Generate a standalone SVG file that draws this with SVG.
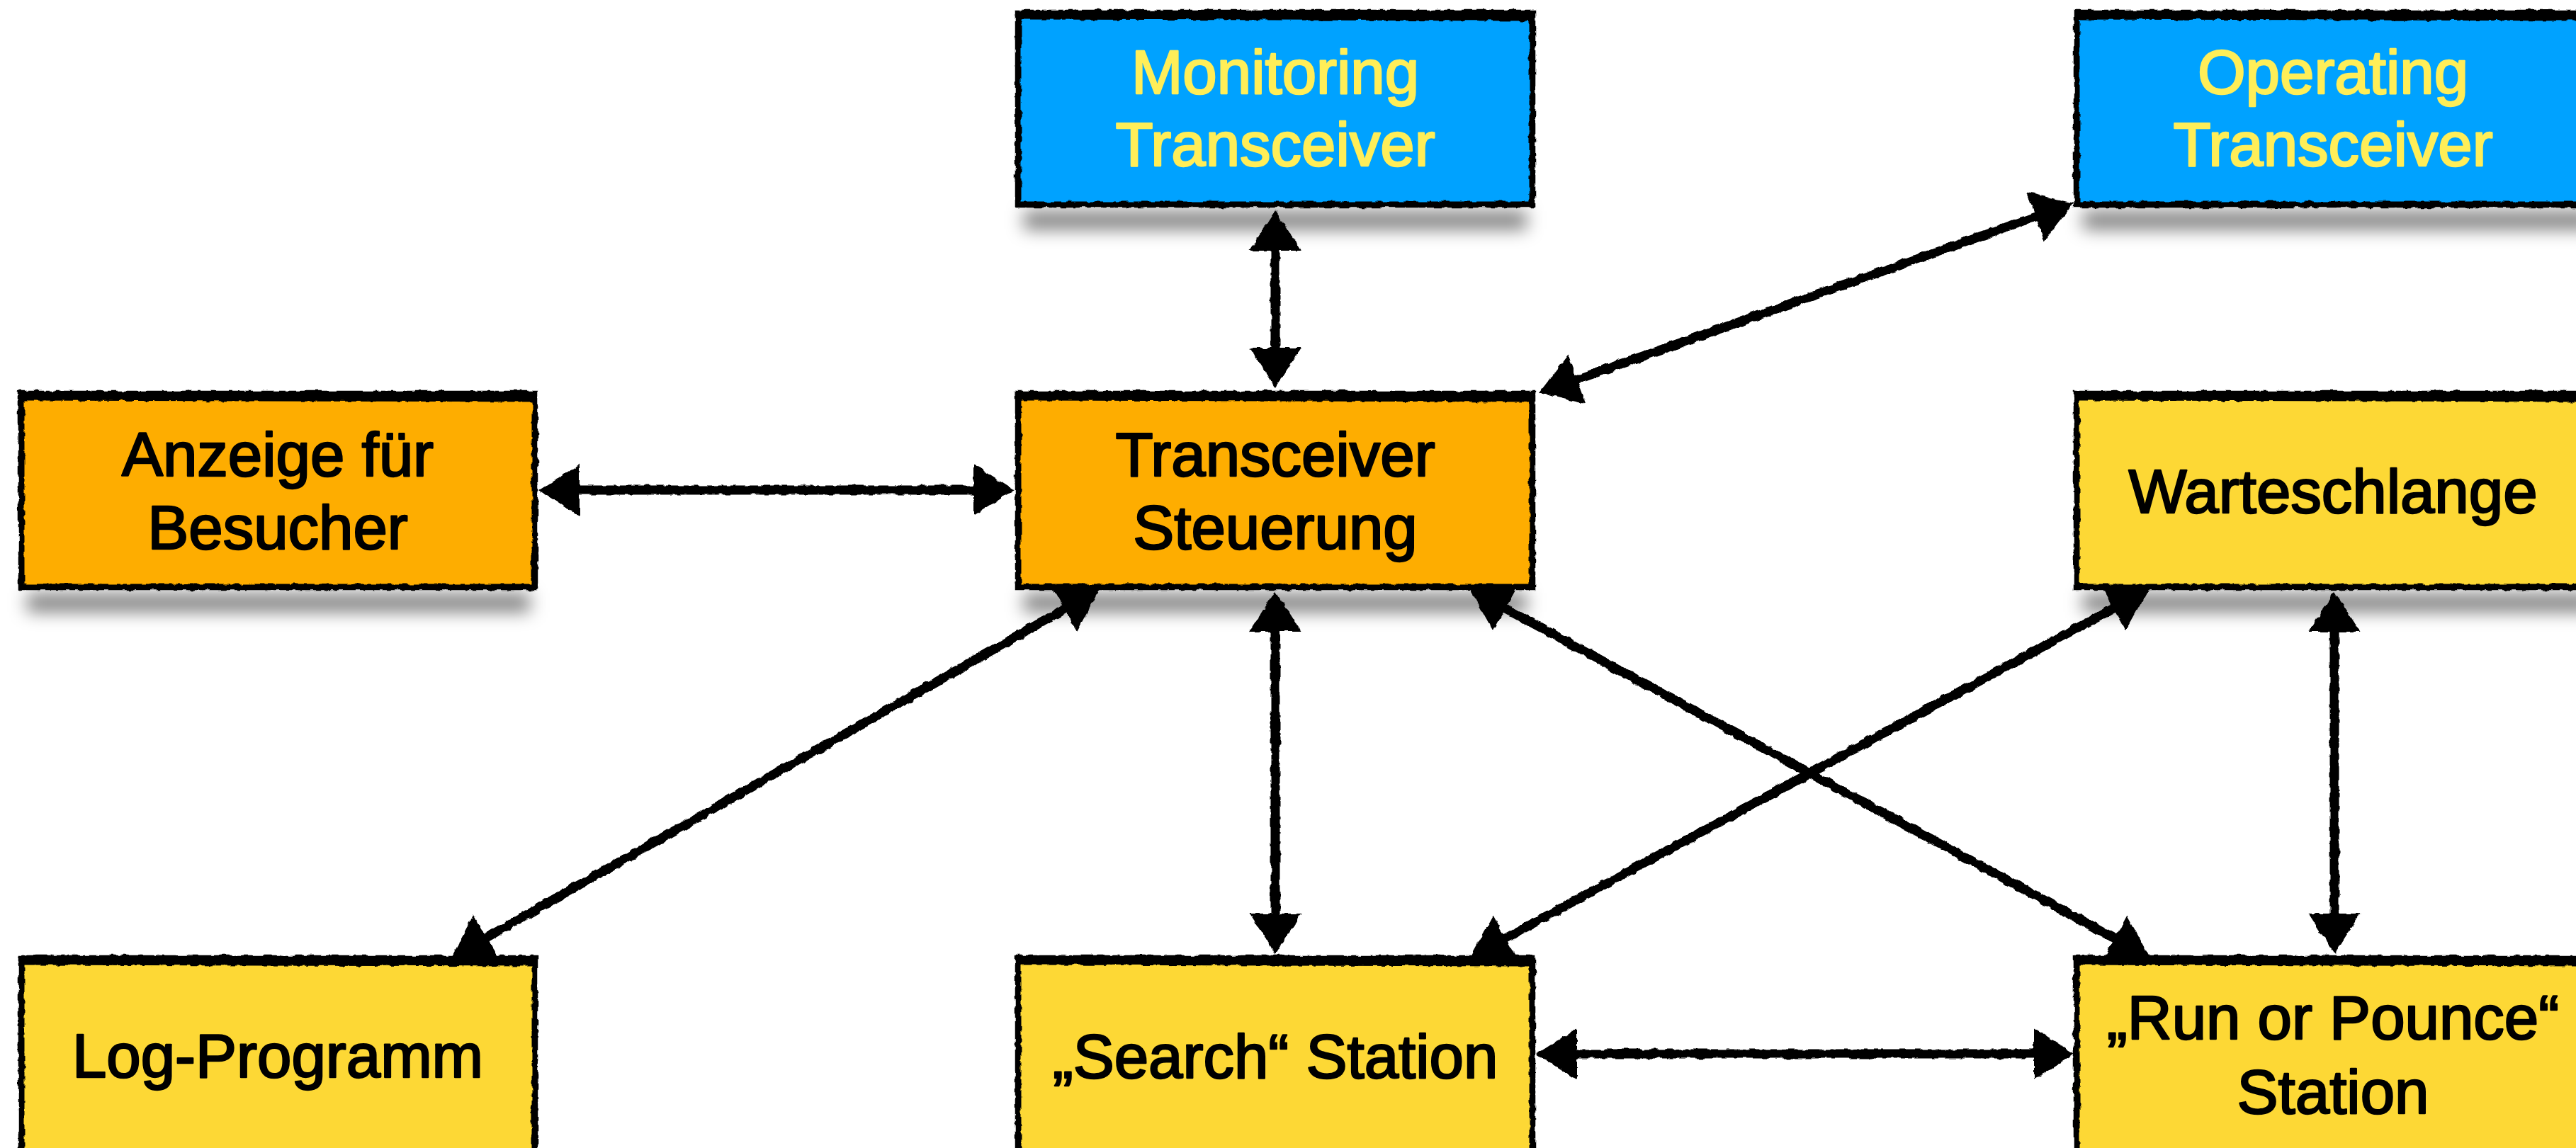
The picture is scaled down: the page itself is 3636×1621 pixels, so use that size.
<svg xmlns="http://www.w3.org/2000/svg" width="3636" height="1621" viewBox="0 0 3636 1621">
<defs>
<style>
.bg{fill:#ffffff}
.blue{fill:#00A2FF}
.orange{fill:#FEAD00}
.yellow{fill:#FDD835}
.frame{fill:none;stroke:#000;stroke-width:7}
.frame2{fill:none;stroke:#000;stroke-width:2.5}
.thick{stroke:#000;stroke-width:9;fill:none}
.lbl{font-family:"Liberation Sans",Arial,Helvetica,sans-serif;font-size:87px;text-anchor:middle;stroke-width:2.5;stroke-linejoin:round}
.dark{fill:#000;stroke:#000}
.light{fill:#FFEE58;stroke:#FFEE58}
.conn{stroke:#000;stroke-width:13;fill:none;stroke-linecap:butt;marker-start:url(#ah);marker-end:url(#ah)}
.shadow{fill:#000;opacity:0.5}
</style>
<filter id="rough" filterUnits="userSpaceOnUse" x="0" y="0" width="3636" height="1621">
<feTurbulence type="fractalNoise" baseFrequency="0.09" numOctaves="2" seed="3" result="n"/>
<feDisplacementMap in="SourceGraphic" in2="n" scale="6" xChannelSelector="R" yChannelSelector="G"/>
</filter>
<filter id="blur" filterUnits="userSpaceOnUse" x="0" y="0" width="3636" height="1621">
<feGaussianBlur stdDeviation="12"/>
</filter>
<marker id="ah" markerUnits="userSpaceOnUse" markerWidth="57" markerHeight="73" viewBox="0 0 57 73" refX="10" refY="36.5" orient="auto-start-reverse" overflow="visible">
<path d="M0,0 L57,36.5 L0,73 Z" fill="#000"/>
</marker>
</defs>
<rect class="bg" x="0" y="0" width="3636" height="1621"/>

<g id="shadows" filter="url(#blur)">
<rect class="shadow" x="1445" y="298" width="710" height="26"/>
<rect class="shadow" x="2940" y="298" width="720" height="26"/>
<rect class="shadow" x="38" y="838" width="710" height="26"/>
<rect class="shadow" x="1445" y="838" width="710" height="26"/>
<rect class="shadow" x="2940" y="838" width="720" height="26"/>
</g>

<g id="connectors" filter="url(#rough)">
<line class="conn" x1="1800" y1="344" x2="1800" y2="501"/>
<line class="conn" x1="2882.7" y1="302.7" x2="2216.3" y2="539.3"/>
<line class="conn" x1="808" y1="692" x2="1384" y2="692"/>
<line class="conn" x1="1511.1" y1="855.2" x2="677.9" y2="1328.8"/>
<line class="conn" x1="1800" y1="882" x2="1800" y2="1300"/>
<line class="conn" x1="2116.3" y1="854.4" x2="2993.7" y2="1329.6"/>
<line class="conn" x1="2991.7" y1="854.4" x2="2116.3" y2="1329.6"/>
<line class="conn" x1="3295" y1="882" x2="3295" y2="1300"/>
<line class="conn" x1="2216" y1="1488" x2="2881" y2="1488"/>
</g>

<g id="monitoring">
<rect class="blue" x="1436" y="17" width="728" height="273"/>
<g filter="url(#rough)">
<rect class="frame" x="1438" y="19" width="724" height="269"/>
<rect class="frame2" x="1434" y="15" width="732" height="277"/>
<line class="thick" x1="1440" y1="23" x2="2162" y2="25"/>
</g>
<text class="lbl light" x="1800" y="132">Monitoring</text>
<text class="lbl light" x="1800" y="234">Transceiver</text>
</g>

<g id="operating">
<rect class="blue" x="2930" y="17" width="740" height="273"/>
<g filter="url(#rough)">
<rect class="frame" x="2932" y="19" width="736" height="269"/>
<rect class="frame2" x="2928" y="15" width="744" height="277"/>
<line class="thick" x1="2934" y1="23" x2="3660" y2="25"/>
</g>
<text class="lbl light" x="3293" y="132">Operating</text>
<text class="lbl light" x="3293" y="234">Transceiver</text>
</g>

<g id="anzeige">
<rect class="orange" x="29" y="555" width="727" height="275"/>
<g filter="url(#rough)">
<rect class="frame" x="31" y="557" width="723" height="271"/>
<rect class="frame2" x="27" y="553" width="731" height="279"/>
<line class="thick" x1="33" y1="561" x2="752" y2="563"/>
</g>
<text class="lbl dark" x="392" y="672">Anzeige für</text>
<text class="lbl dark" x="392" y="775">Besucher</text>
</g>

<g id="steuerung">
<rect class="orange" x="1436" y="555" width="728" height="275"/>
<g filter="url(#rough)">
<rect class="frame" x="1438" y="557" width="724" height="271"/>
<rect class="frame2" x="1434" y="553" width="732" height="279"/>
<line class="thick" x1="1440" y1="561" x2="2160" y2="563"/>
</g>
<text class="lbl dark" x="1800" y="672">Transceiver</text>
<text class="lbl dark" x="1800" y="775">Steuerung</text>
</g>

<g id="warteschlange">
<rect class="yellow" x="2930" y="555" width="740" height="275"/>
<g filter="url(#rough)">
<rect class="frame" x="2932" y="557" width="736" height="271"/>
<rect class="frame2" x="2928" y="553" width="744" height="279"/>
<line class="thick" x1="2934" y1="561" x2="3660" y2="563"/>
</g>
<text class="lbl dark" x="3293" y="724">Warteschlange</text>
</g>

<g id="log">
<rect class="yellow" x="29" y="1352" width="727" height="290"/>
<g filter="url(#rough)">
<rect class="frame" x="31" y="1354" width="723" height="286"/>
<rect class="frame2" x="27" y="1350" width="731" height="294"/>
<line class="thick" x1="33" y1="1358" x2="752" y2="1360"/>
</g>
<text class="lbl dark" x="392" y="1521">Log-Programm</text>
</g>

<g id="search">
<rect class="yellow" x="1436" y="1352" width="728" height="290"/>
<g filter="url(#rough)">
<rect class="frame" x="1438" y="1354" width="724" height="286"/>
<rect class="frame2" x="1434" y="1350" width="732" height="294"/>
<line class="thick" x1="1440" y1="1358" x2="2160" y2="1360"/>
</g>
<text class="lbl dark" x="1800" y="1522">„Search“ Station</text>
</g>

<g id="runpounce">
<rect class="yellow" x="2930" y="1352" width="740" height="290"/>
<g filter="url(#rough)">
<rect class="frame" x="2932" y="1354" width="736" height="286"/>
<rect class="frame2" x="2928" y="1350" width="744" height="294"/>
<line class="thick" x1="2934" y1="1358" x2="3660" y2="1360"/>
</g>
<text class="lbl dark" x="3293" y="1467">„Run or Pounce“</text>
<text class="lbl dark" x="3293" y="1572">Station</text>
</g>
</svg>
